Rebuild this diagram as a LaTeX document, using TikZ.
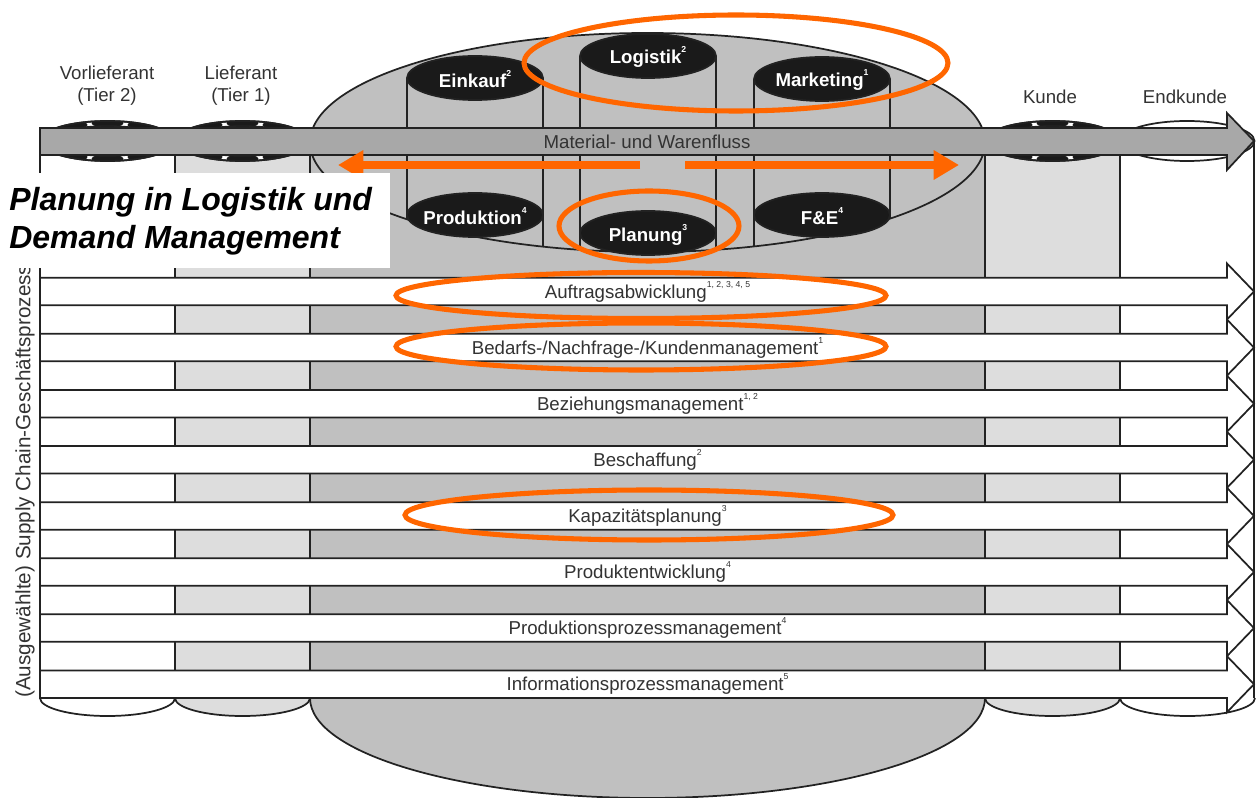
\documentclass[tikz,border=0pt]{standalone}
\usepackage{fontspec}
\setmainfont{Liberation Sans}
\usetikzlibrary{arrows.meta}

\definecolor{scOrange}{RGB}{255,102,0}
\definecolor{colMid}{RGB}{192,192,192}
\definecolor{colLight}{RGB}{221,221,221}
\definecolor{colBar}{RGB}{168,168,168}
\definecolor{txtGray}{RGB}{51,51,51}
\definecolor{edgeGray}{RGB}{34,34,34}
\definecolor{funcBlack}{RGB}{26,26,26}

\newcommand{\hochz}[1]{\raisebox{0.55em}{\fontsize{6.5}{6.5}\selectfont #1}}

\begin{document}
\begin{tikzpicture}[x=0.75pt,y=0.75pt,yscale=-1,xscale=1,
  outl/.style={draw=edgeGray,line width=1.3pt},
  ring/.style={draw=scOrange,line width=3.8pt},
  flowarr/.style={draw=scOrange,line width=6pt,-{Triangle[length=19pt,width=21pt]}},
  lbl/.style={text=txtGray,font=\fontsize{14}{16.5}\selectfont,inner sep=0.75pt,align=center},
  func/.style={text=white,font=\fontsize{14}{16}\selectfont\bfseries,inner sep=0.75pt}]
        \useasboundingbox (0,0) rectangle (1258,798);

        %Cylinders: suppliers and customers
        \foreach \xl/\cx/\xr/\fc in {40/107.5/175/white,175/242.5/310/colLight,985/1052.5/1120/colLight,1120/1187/1254/white}{
          \fill[\fc] (\xl,141) rectangle (\xr,698);
          \draw[outl,fill=\fc] (\xl,698) arc[start angle=180,end angle=0,x radius=67.5,y radius=18];
          \draw[outl] (\xl,141) -- (\xl,698);
          \draw[outl] (\xr,141) -- (\xr,698);
          \draw[outl,fill=white] (\cx,141) ellipse [x radius=67.5,y radius=20];
        }
        %Wheels on the top faces
        \foreach \cx in {107.5,242.5,1052.5}{
          \begin{scope}
            \clip (\cx,141) ellipse [x radius=67.5,y radius=20];
            \foreach \dx/\dy in {-36/-16,0/-18,36/-16,-36/16,0/18,36/16}
              \fill[funcBlack] (\cx+\dx,141+\dy) ellipse [x radius=16,y radius=5];
            \draw[edgeGray,line width=1pt] (\cx,141) ellipse [x radius=60,y radius=15];
          \end{scope}
          \draw[outl] (\cx,141) ellipse [x radius=67.5,y radius=20];
        }

        %Central cylinder
        \fill[colMid] (310,142.5) rectangle (985,698);
        \draw[outl,fill=colMid] (310,698) arc[start angle=180,end angle=0,x radius=337.5,y radius=100];
        \draw[outl] (310,142.5) -- (310,698);
        \draw[outl] (985,142.5) -- (985,698);
        \draw[outl,fill=colMid] (647.5,142.5) ellipse [x radius=337.5,y radius=109.5];
        \begin{scope}
          \clip (647.5,142.5) ellipse [x radius=337.5,y radius=109.5];
          \foreach \xx/\yy in {407/78,543/78,580/56,716/56,754/79,890/79}
            \draw[outl] (\xx,\yy) -- (\xx,270);
        \end{scope}

        %Functions
        \draw[outl,fill=funcBlack] (475,78) ellipse [x radius=68,y radius=22];
        \draw[outl,fill=funcBlack] (648,56) ellipse [x radius=68,y radius=22];
        \draw[outl,fill=funcBlack] (822,79) ellipse [x radius=68,y radius=22];
        \draw[outl,fill=funcBlack] (475,215) ellipse [x radius=68,y radius=22];
        \draw[outl,fill=funcBlack] (648,233) ellipse [x radius=68,y radius=22];
        \draw[outl,fill=funcBlack] (822,215) ellipse [x radius=68,y radius=22];
        % Text Node
        \node[func] (einkauf) at (475,79) {Einkauf\hochz{2}};
        % Text Node
        \node[func] (logistik) at (648,57) {Logistik\hochz{2}};
        % Text Node
        \node[func] (marketing) at (822,80) {Marketing\hochz{1}};
        % Text Node
        \node[func] (produktion) at (475,216) {Produktion\hochz{4}};
        % Text Node
        \node[func] (planung) at (648,235) {Planung\hochz{3}};
        % Text Node
        \node[func] (fue) at (822,216) {F\&E\hochz{4}};

        %Material flow
        \draw[outl,fill=colBar] (40,128) -- (1227,128) -- (1227,113) -- (1254,141) -- (1227,170) -- (1227,155) -- (40,155) -- cycle;
        % Text Node
        \node[lbl] (fluss) at (647,142) {Material- und Warenfluss};

        %Process rows
        \foreach \i in {0,...,7}{
          \pgfmathsetmacro{\c}{291.5+56.1*\i}
          \draw[outl,fill=white] (40,\c-13.75) -- (1227,\c-13.75) -- (1227,\c-28) -- (1254,\c) -- (1227,\c+28) -- (1227,\c+13.75) -- (40,\c+13.75) -- cycle;
        }
        % Text Node
        \node[lbl] (p1) at (647.5,292) {Auftragsabwicklung\hochz{1, 2, 3, 4, 5}};
        % Text Node
        \node[lbl] (p2) at (647.5,348) {Bedarfs-/Nachfrage-/Kundenmanagement\hochz{1}};
        % Text Node
        \node[lbl] (p3) at (647.5,404) {Beziehungsmanagement\hochz{1, 2}};
        % Text Node
        \node[lbl] (p4) at (647.5,460) {Beschaffung\hochz{2}};
        % Text Node
        \node[lbl] (p5) at (647.5,516) {Kapazitätsplanung\hochz{3}};
        % Text Node
        \node[lbl] (p6) at (647.5,572) {Produktentwicklung\hochz{4}};
        % Text Node
        \node[lbl] (p7) at (647.5,628) {Produktionsprozessmanagement\hochz{4}};
        % Text Node
        \node[lbl] (p8) at (647.5,684) {Informationsprozessmanagement\hochz{5}};

        % Text Node
        \node[lbl,font=\fontsize{15.5}{17}\selectfont,rotate=90,anchor=west] (prozesse) at (25,699) {(Ausgewählte) Supply Chain-Geschäftsprozesse};

        % Text Node
        \node[lbl] (vorlieferant) at (107,86) {Vorlieferant\\(Tier 2)};
        % Text Node
        \node[lbl] (lieferant) at (241,86) {Lieferant\\(Tier 1)};
        % Text Node
        \node[lbl] (kunde) at (1050,97) {Kunde};
        % Text Node
        \node[lbl] (endkunde) at (1185,97) {Endkunde};

        %Orange highlights
        \coordinate (lstart) at (640,165);
        \coordinate (ltip) at (338,165);
        \coordinate (rstart) at (685,165);
        \coordinate (rtip) at (959,165);
        \draw[flowarr] (lstart) -- (ltip);
        \draw[flowarr] (rstart) -- (rtip);
        \draw[ring] (736,63) ellipse [x radius=212,y radius=48];
        \draw[ring] (649,226) ellipse [x radius=90,y radius=35];
        \draw[ring] (641,295.5) ellipse [x radius=245,y radius=23];
        \draw[ring] (641,346.5) ellipse [x radius=245,y radius=23.5];
        \draw[ring] (649,515) ellipse [x radius=244,y radius=25];

        %Title box
        \fill[white] (0,173) rectangle (390,268);
        % Text Node
        \node[anchor=west,align=left,inner sep=0.75pt,font=\fontsize{24}{28.5}\selectfont\bfseries\itshape] (titel) at (8,221) {Planung in Logistik und\\Demand Management};
\end{tikzpicture}
\end{document}
